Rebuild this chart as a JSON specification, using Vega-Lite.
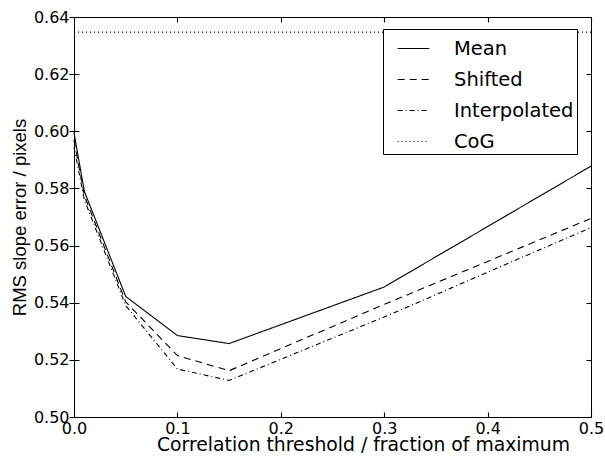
{
  "$schema": "https://vega.github.io/schema/vega-lite/v6.json",
  "width": 517,
  "height": 400,
  "autosize": {"type": "none"},
  "padding": {"left": 74, "top": 17, "right": 14, "bottom": 41},
  "background": "white",
  "config": {
    "view": {"stroke": "black", "strokeWidth": 1},
    "axis": {
      "grid": false,
      "domain": false,
      "tickColor": "black",
      "tickWidth": 1.1,
      "tickSize": 5,
      "labelColor": "black",
      "labelFont": "DejaVu Sans",
      "labelFontSize": 16,
      "labelFlush": false,
      "labelOverlap": false,
      "titleColor": "black",
      "titleFontWeight": "normal"
    },
    "legend": {
      "labelFont": "DejaVu Sans",
      "labelFontSize": 19.5,
      "labelColor": "black"
    }
  },
  "data": {
    "values": [
      {"series": "Mean", "x": 0, "y": 0.5995},
      {"series": "Mean", "x": 0.01, "y": 0.579},
      {"series": "Mean", "x": 0.05, "y": 0.5422},
      {"series": "Mean", "x": 0.1, "y": 0.5285},
      {"series": "Mean", "x": 0.15, "y": 0.5257},
      {"series": "Mean", "x": 0.3, "y": 0.5455},
      {"series": "Mean", "x": 0.5, "y": 0.5878},
      {"series": "Shifted", "x": 0, "y": 0.597},
      {"series": "Shifted", "x": 0.01, "y": 0.5775},
      {"series": "Shifted", "x": 0.05, "y": 0.5403},
      {"series": "Shifted", "x": 0.1, "y": 0.5215},
      {"series": "Shifted", "x": 0.15, "y": 0.5162},
      {"series": "Shifted", "x": 0.3, "y": 0.5394},
      {"series": "Shifted", "x": 0.5, "y": 0.5695},
      {"series": "Interpolated", "x": 0, "y": 0.5945},
      {"series": "Interpolated", "x": 0.01, "y": 0.576},
      {"series": "Interpolated", "x": 0.05, "y": 0.539},
      {"series": "Interpolated", "x": 0.1, "y": 0.5168},
      {"series": "Interpolated", "x": 0.15, "y": 0.5128},
      {"series": "Interpolated", "x": 0.3, "y": 0.535},
      {"series": "Interpolated", "x": 0.5, "y": 0.5663},
      {"series": "CoG", "x": 0, "y": 0.6347},
      {"series": "CoG", "x": 0.5, "y": 0.6347}
    ]
  },
  "layer": [
    {
      "mark": {"type": "line", "color": "black", "strokeWidth": 1.1},
      "encoding": {
        "x": {
          "field": "x", "type": "quantitative",
          "scale": {"domain": [0, 0.5], "nice": false, "zero": false},
          "axis": {
            "orient": "bottom",
            "values": [0, 0.1, 0.2, 0.3, 0.4, 0.5],
            "format": ".1f",
            "ticks": false,
            "labelPadding": 3,
            "title": "Correlation threshold / fraction of maximum",
            "titleFont": "DejaVu Sans",
            "titleFontSize": 18.8,
            "titlePadding": -1,
            "titleX": 289
          }
        },
        "y": {
          "field": "y", "type": "quantitative",
          "scale": {"domain": [0.5, 0.64], "nice": false, "zero": false},
          "axis": {
            "orient": "left",
            "values": [0.5, 0.52, 0.54, 0.56, 0.58, 0.6, 0.62, 0.64],
            "format": ".2f",
            "ticks": true,
            "tickSize": 5,
            "labelPadding": 0,
            "title": "RMS slope error / pixels",
            "titleFont": "Liberation Sans",
            "titleFontSize": 18.5,
            "titlePadding": 4
          }
        },
        "strokeDash": {
          "field": "series", "type": "nominal",
          "scale": {
            "domain": ["Mean", "Shifted", "Interpolated", "CoG"],
            "range": [[1, 0], [7, 5], [5, 3, 1, 3], [1, 3]]
          },
          "legend": {
            "title": null,
            "orient": "none",
            "legendX": 309,
            "legendY": 12,
            "symbolType": "stroke",
            "symbolStrokeColor": "black",
            "symbolStrokeWidth": 1.1,
            "symbolSize": 1000,
            "symbolOffset": 11,
            "labelOffset": 24,
            "padding": 3,
            "rowPadding": 5,
            "strokeColor": "black",
            "fillColor": "white"
          }
        }
      }
    },
    {
      "mark": {"type": "line", "opacity": 0},
      "encoding": {
        "x": {
          "field": "x", "type": "quantitative",
          "axis": {"orient": "top", "offset": -400, "values": [0, 0.1, 0.2, 0.3, 0.4, 0.5], "ticks": true, "labels": false, "title": null}
        },
        "y": {
          "field": "y", "type": "quantitative",
          "axis": {"orient": "right", "offset": -517, "values": [0.5, 0.52, 0.54, 0.56, 0.58, 0.6, 0.62, 0.64], "ticks": true, "labels": false, "title": null}
        },
        "detail": {"field": "series"}
      }
    },
    {
      "mark": {"type": "line", "opacity": 0},
      "encoding": {
        "x": {
          "field": "x", "type": "quantitative",
          "axis": {"orient": "bottom", "offset": -400, "values": [0, 0.1, 0.2, 0.3, 0.4, 0.5], "ticks": true, "labels": false, "title": null}
        },
        "y": {
          "field": "y", "type": "quantitative",
          "axis": {"orient": "left", "offset": -517, "values": [0.5, 0.52, 0.54, 0.56, 0.58, 0.6, 0.62, 0.64], "ticks": true, "labels": false, "title": null}
        },
        "detail": {"field": "series"}
      }
    }
  ],
  "resolve": {"axis": {"x": "independent", "y": "independent"}}
}
